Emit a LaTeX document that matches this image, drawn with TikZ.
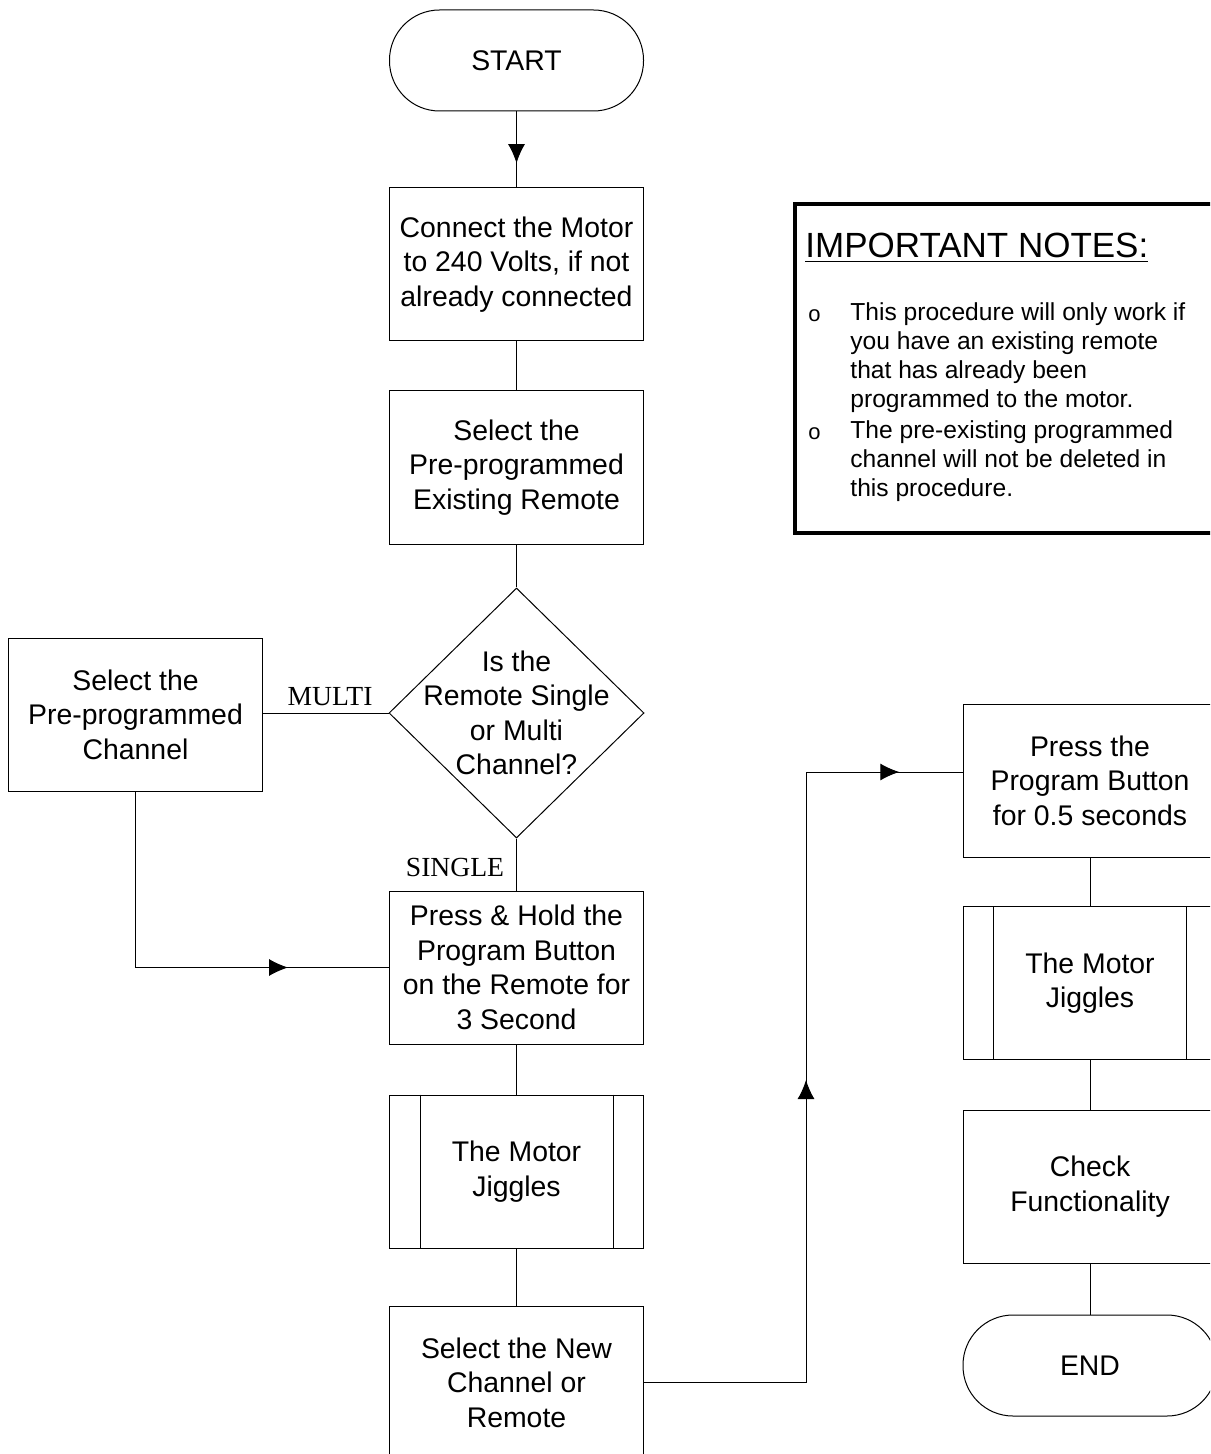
\documentclass[tikz,border=0pt]{standalone}
\usepackage{fontspec}
\setmainfont{Liberation Sans}
\newfontfamily\timesfont{Liberation Serif}
\usetikzlibrary{shapes.geometric,arrows.meta,decorations.markings}
\tikzset{
  basetxt/.style={font=\fontsize{14.2}{17.25}\selectfont, align=center, inner sep=0pt},
  procbox/.style={basetxt, draw, line width=0.5pt, minimum width=127pt, minimum height=76.5pt},
  termbox/.style={basetxt, draw, line width=0.5pt, rounded corners=25pt, minimum width=127pt, minimum height=50.5pt},
  decbox/.style={draw, line width=0.5pt, diamond, minimum width=127.5pt, minimum height=125pt, inner sep=0pt},
  branchlbl/.style={font=\timesfont\fontsize{13.8}{16}\selectfont, inner sep=0pt, anchor=base},
  conn/.style={line width=0.5pt},
  midarrow/.style={postaction={decorate}, decoration={markings, mark=at position #1 with {\arrow{Latex[length=9.5pt,width=8.5pt]}}}},
  notetxt/.style={font=\fontsize{12.3}{14.5}\selectfont, anchor=base west, inner sep=0pt},
  bullettxt/.style={font=\fontsize{11}{12}\selectfont, anchor=base west, inner sep=0pt},
}
\begin{document}
\begin{tikzpicture}[x=0.5pt, y=-0.5pt]
\useasboundingbox (0,0) rectangle (1210,1454);
\clip (0,0) rectangle (1210,1454);
\fill[white] (0,0) rectangle (1210,1454);

% main column
\node[termbox] (start) at (516.5,60.5) {START};
\node[procbox] (connect) at (516.5,264.5) {Connect the Motor\\to 240 Volts, if not\\already connected};
\node[procbox] (existing) at (516.5,467.5) {Select the\\Pre-programmed\\Existing Remote};
\node[decbox] (dec) at (516.5,713) {};
\node[basetxt] (dectext) at (516.5,713) {Is the\\Remote Single\\or Multi\\Channel?};
\node[procbox] (chan) at (135.5,714.5) {Select the\\Pre-programmed\\Channel};
\node[procbox] (hold) at (516.5,967.5) {Press \& Hold the\\Program Button\\on the Remote for\\3 Second};
\node[procbox] (jig1) at (516.5,1171.5) {The Motor\\Jiggles};
\draw[conn] ([xshift=15.5pt]jig1.north west) -- ([xshift=15.5pt]jig1.south west);
\draw[conn] ([xshift=-15.5pt]jig1.north east) -- ([xshift=-15.5pt]jig1.south east);
\node[procbox] (newch) at (516.5,1382.5) {Select the New\\Channel or\\Remote};

% right column
\node[procbox] (prog) at (1090,780.5) {Press the\\Program Button\\for 0.5 seconds};
\node[procbox] (jig2) at (1090,983) {The Motor\\Jiggles};
\draw[conn] ([xshift=15.5pt]jig2.north west) -- ([xshift=15.5pt]jig2.south west);
\draw[conn] ([xshift=-15.5pt]jig2.north east) -- ([xshift=-15.5pt]jig2.south east);
\node[procbox] (check) at (1090,1186.5) {Check\\Functionality};
\node[termbox] (endn) at (1090,1365.5) {END};

% branch labels
\node[branchlbl] (multi) at (330,705) {MULTI};
\node[branchlbl] (single) at (455,876) {SINGLE};

% connectors
\draw[conn, midarrow=0.68] (start) -- (connect);
\draw[conn] (connect) -- (existing);
\draw[conn] (existing) -- (dec);
\draw[conn] (dec) -- (hold);
\draw[conn] (dec.west) -- (dec.west -| chan.east);
\draw[conn, midarrow=0.765] (chan) |- (hold);
\draw[conn] (hold) -- (jig1);
\draw[conn] (jig1) -- (newch);
\coordinate (jog) at (806,772);
\draw[conn, postaction={decorate}, decoration={markings,
    mark=at position 0.5 with {\arrow{Latex[length=9.5pt,width=8.5pt]}},
    mark=at position 0.932 with {\arrow{Latex[length=9.5pt,width=8.5pt]}}}]
  (newch.east) -| (jog) -- (jog -| prog.west);
\draw[conn] (prog) -- (jig2);
\draw[conn] (jig2) -- (check);
\draw[conn] (check) -- (endn);

% notes box
\draw[line width=2pt] (795,204) rectangle (1240,533);
\node[anchor=base west, inner sep=0pt, font=\fontsize{17.5}{20}\selectfont] (ntitle) at (805,258) {\underline{IMPORTANT NOTES:}};
\node[bullettxt] (b1) at (808,322) {o};
\node[notetxt] (n1) at (850,321) {This procedure will only work if};
\node[notetxt] (n2) at (850,350) {you have an existing remote};
\node[notetxt] (n3) at (850,379) {that has already been};
\node[notetxt] (n4) at (850,408) {programmed to the motor.};
\node[bullettxt] (b2) at (808,439) {o};
\node[notetxt] (n5) at (850,438) {The pre-existing programmed};
\node[notetxt] (n6) at (850,467) {channel will not be deleted in};
\node[notetxt] (n7) at (850,496) {this procedure.};
\end{tikzpicture}
\end{document}
